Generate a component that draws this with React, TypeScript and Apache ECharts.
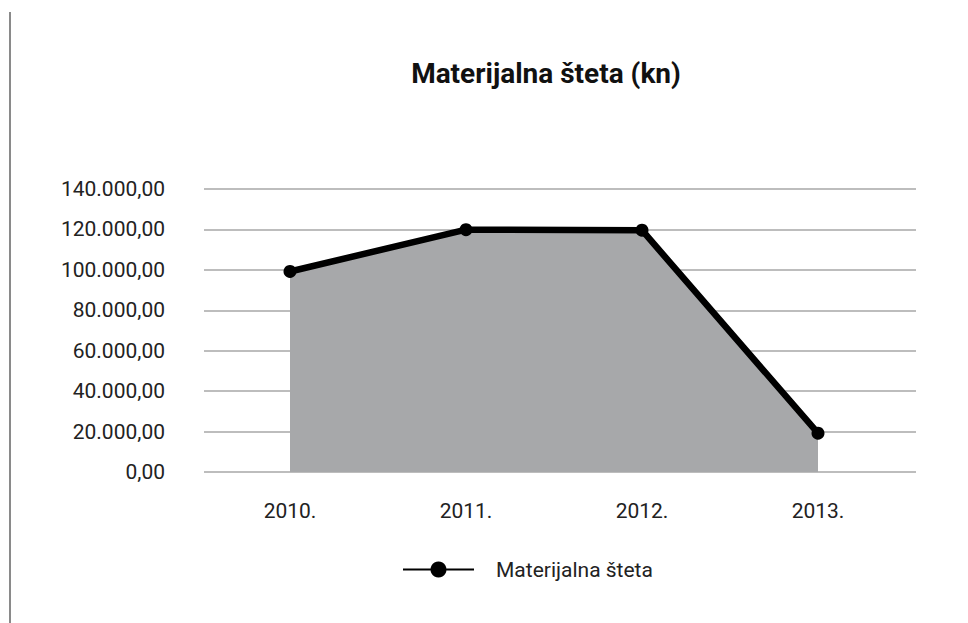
import React, { useEffect, useRef } from "react";
import * as echarts from "echarts";

const categories = ["2010.", "2011.", "2012.", "2013."];
const seriesName = "Materijalna šteta";
const values = [99200, 119900, 119600, 19200];
const yTickLabels = ["0,00", "20.000,00", "40.000,00", "60.000,00", "80.000,00", "100.000,00", "120.000,00", "140.000,00"];
const titleText = "Materijalna šteta (kn)";

export default function App() {
  const ref = useRef<HTMLDivElement>(null);
  useEffect(() => {
    if (!ref.current) return;
    const chart = echarts.init(ref.current, undefined, { renderer: "svg" });
    const font = "Roboto";
    chart.setOption({
      animation: false,
      backgroundColor: "#ffffff",
      title: {
        text: titleText,
        left: 541,
        top: 54,
        textAlign: "center",
        textStyle: { fontFamily: font, fontSize: 28, fontWeight: "bold", color: "#111" },
      },
      legend: {
        data: [seriesName],
        left: 398,
        top: 554,
        itemWidth: 71,
        itemHeight: 20,
        icon: "path://M0,9 L71,9 L71,11 L0,11 Z M35.5,2 A8,8 0 1 1 35.49,2 Z",
        itemStyle: { color: "#000" },
        textStyle: { fontFamily: font, fontSize: 21, color: "#222", padding: [0, 0, 0, 17] },
      },
      graphic: [
        {
          type: "line",
          shape: { x1: 10, y1: 12, x2: 10, y2: 623 },
          style: { stroke: "#8a8a8a", lineWidth: 2 },
        },
      ],
      grid: [
        { left: 204, width: 712, top: 189, height: 283 },
        { left: 202, width: 704, top: 189, height: 283 },
      ],
      xAxis: [
        { type: "category", gridIndex: 0, data: categories, show: false },
        {
          type: "category",
          gridIndex: 1,
          data: categories,
          boundaryGap: true,
          axisLine: { show: false },
          axisTick: { show: false },
          splitLine: { show: false },
          axisLabel: { fontFamily: font, fontSize: 21, color: "#222", margin: 28 },
        },
      ],
      yAxis: [
        {
          type: "value",
          gridIndex: 0,
          min: 0,
          max: 140000,
          interval: 20000,
          axisLine: { show: false },
          axisTick: { show: false },
          splitLine: { lineStyle: { color: "#bdbdbd", width: 2 } },
          axisLabel: {
            fontFamily: font,
            fontSize: 21,
            color: "#222",
            margin: 39,
            formatter: (v: number) => yTickLabels[Math.round(v / 20000)],
          },
        },
        {
          type: "value",
          gridIndex: 1,
          min: 0,
          max: 140000,
          interval: 20000,
          show: false,
        },
      ],
      series: [
        {
          name: seriesName,
          type: "line",
          xAxisIndex: 1,
          yAxisIndex: 1,
          data: values,
          symbol: "circle",
          symbolSize: 13,
          lineStyle: { color: "#000", width: 6.5 },
          itemStyle: { color: "#000" },
          areaStyle: { color: "#a7a8aa", opacity: 1 },
        },
      ],
    });
    return () => chart.dispose();
  }, []);
  return <div ref={ref} style={{ position: "absolute", left: 0, top: 0, width: 968, height: 623 }} />;
}
